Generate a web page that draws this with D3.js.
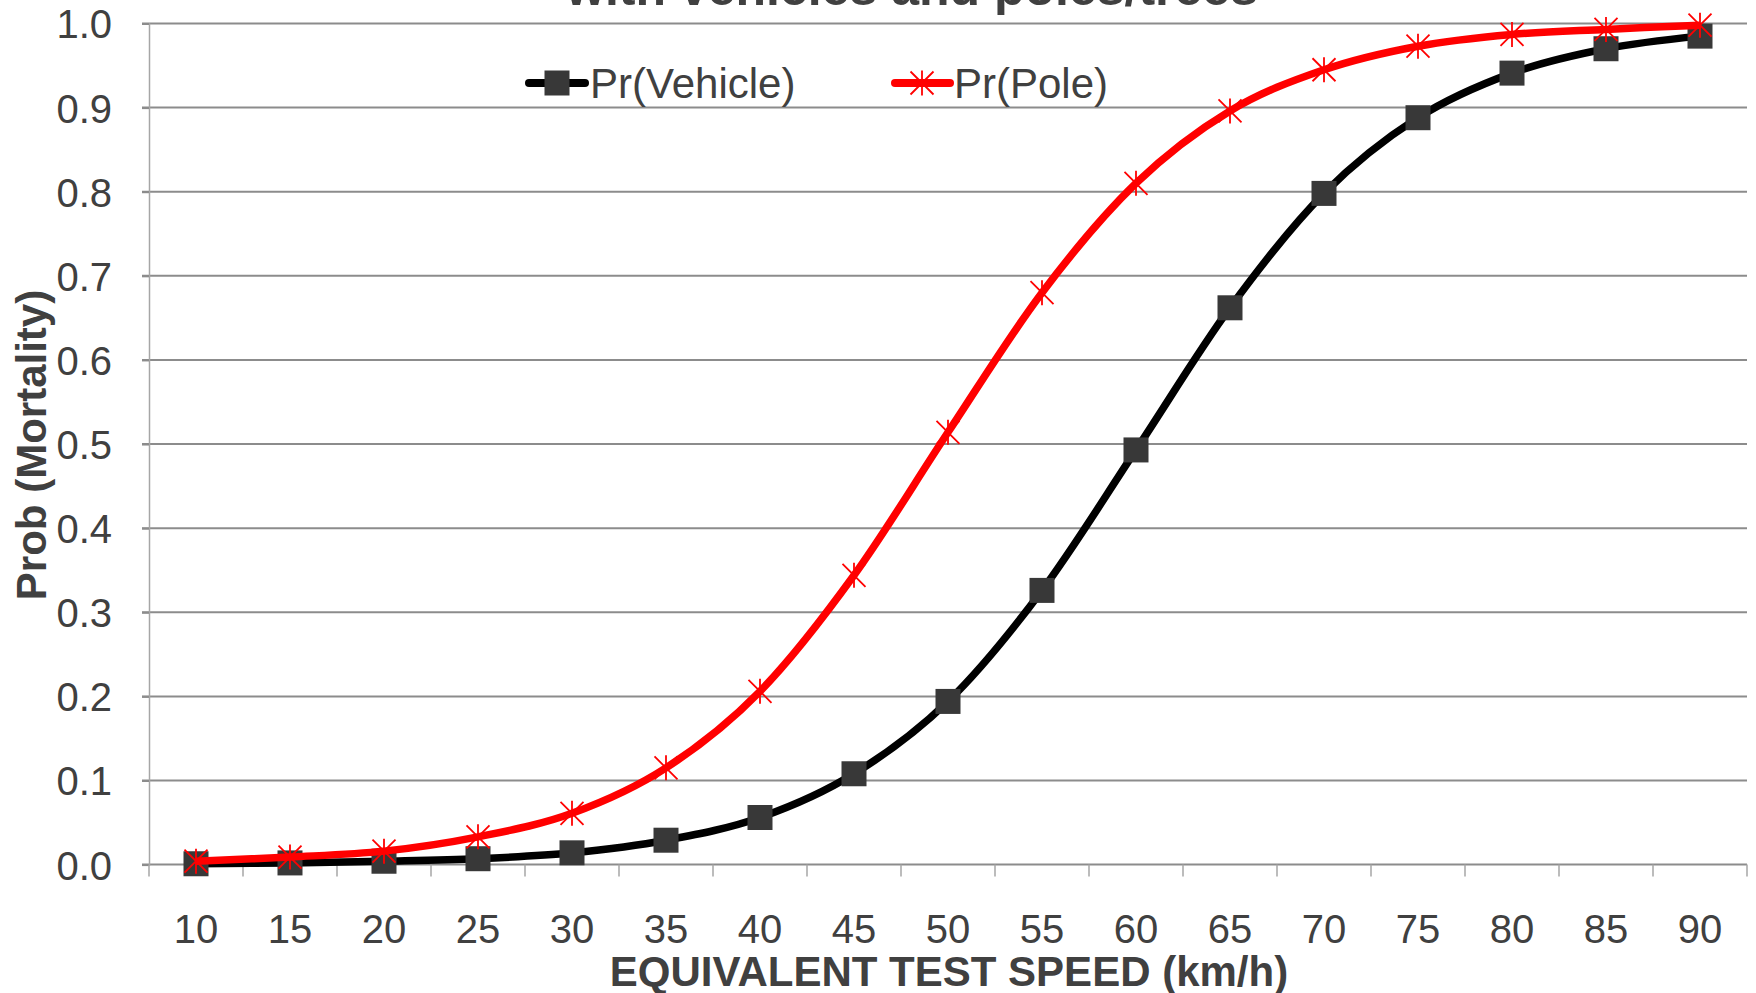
<!DOCTYPE html>
<html>
<head>
<meta charset="utf-8">
<script src="https://cdn.jsdelivr.net/npm/d3@7"></script>
<style>
  body { margin: 0; background: #fff; }
  text { font-family: "Liberation Sans", Arial, sans-serif; fill: #404040; }
</style>
</head>
<body>
<div id="chart"></div>
<script>
// data
var speeds = [10, 15, 20, 25, 30, 35, 40, 45, 50, 55, 60, 65, 70, 75, 80, 85, 90];
var vehicle = [0.001, 0.002, 0.004, 0.007, 0.014, 0.029, 0.056, 0.108, 0.194, 0.326, 0.493, 0.662, 0.798, 0.888, 0.941, 0.970, 0.985];
var pole = [0.004, 0.009, 0.016, 0.033, 0.061, 0.115, 0.206, 0.344, 0.514, 0.680, 0.810, 0.896, 0.945, 0.973, 0.987, 0.993, 0.998];
var yTicks = [0, 0.1, 0.2, 0.3, 0.4, 0.5, 0.6, 0.7, 0.8, 0.9, 1.0];
var seriesNames = ["Pr(Vehicle)", "Pr(Pole)"];
var titleText = "with vehicles and poles/trees";
var xTitle = "EQUIVALENT TEST SPEED (km/h)";
var yTitle = "Prob (Mortality)";

var W = 1756, H = 993;
var plotLeft = 149, plotRight = 1747, plotTop = 23.5, plotBottom = 864.6;

var svg = d3.select("#chart").append("svg")
  .attr("width", W).attr("height", H);

var x = d3.scaleBand().domain(speeds).range([plotLeft, plotRight]).padding(0);
var y = d3.scaleLinear().domain([0, 1]).range([plotBottom, plotTop]);

// horizontal gridlines
svg.append("g").selectAll("line")
  .data(yTicks)
  .enter().append("line")
    .attr("x1", plotLeft - 7).attr("x2", plotRight)
    .attr("y1", function(d) { return y(d); })
    .attr("y2", function(d) { return y(d); })
    .attr("stroke", "#8c8c8c")
    .attr("stroke-width", 2);

// y axis
var yAxis = svg.append("g")
  .attr("transform", "translate(" + plotLeft + ",0)")
  .call(d3.axisLeft(y).tickValues(yTicks).tickFormat(d3.format(".1f")).tickSize(7).tickPadding(30));
yAxis.select(".domain").attr("stroke", "#a6a6a6").attr("stroke-width", 1.5);
yAxis.selectAll(".tick line").attr("stroke", "#8c8c8c").attr("stroke-width", 2);
yAxis.selectAll(".tick text")
  .style("font-size", "40px")
  .attr("fill", "#404040")
  .attr("dy", "0.36em");

// x axis
var xAxis = svg.append("g")
  .attr("transform", "translate(0," + plotBottom + ")")
  .call(d3.axisBottom(x).tickSize(0).tickPadding(50));
xAxis.select(".domain").remove();
xAxis.selectAll(".tick text")
  .style("font-size", "40px")
  .attr("fill", "#404040");

// category boundary ticks
var bounds = speeds.map(function(d) { return x(d); }).concat([x(speeds[speeds.length - 1]) + x.bandwidth()]);
svg.append("g").selectAll("line")
  .data(bounds)
  .enter().append("line")
    .attr("x1", function(d) { return d; })
    .attr("x2", function(d) { return d; })
    .attr("y1", plotBottom)
    .attr("y2", plotBottom + 12)
    .attr("stroke", "#a6a6a6")
    .attr("stroke-width", 1.5);

function cx(d, i) { return x(speeds[i]) + x.bandwidth() / 2; }

var line = d3.line()
  .x(function(d, i) { return cx(d, i); })
  .y(function(d) { return y(d); })
  .curve(d3.curveCardinal);

// vehicle line + squares
svg.append("path")
  .datum(vehicle)
  .attr("d", line)
  .attr("fill", "none")
  .attr("stroke", "#000")
  .attr("stroke-width", 7.5)
  .attr("stroke-linejoin", "round");

svg.append("g").selectAll("rect")
  .data(vehicle)
  .enter().append("rect")
    .attr("x", function(d, i) { return cx(d, i) - 12.5; })
    .attr("y", function(d) { return y(d) - 12.5; })
    .attr("width", 25).attr("height", 25)
    .attr("fill", "#383838");

// pole line + stars
svg.append("path")
  .datum(pole)
  .attr("d", line)
  .attr("fill", "none")
  .attr("stroke", "#ff0000")
  .attr("stroke-width", 7.5)
  .attr("stroke-linejoin", "round");

function star(g, px, py) {
  var r = 12.5;
  var s = 11.5;
  g.append("path")
    .attr("d", "M" + px + "," + (py - r) + "L" + px + "," + (py + r) +
               "M" + (px - s) + "," + (py - s) + "L" + (px + s) + "," + (py + s) +
               "M" + (px - s) + "," + (py + s) + "L" + (px + s) + "," + (py - s))
    .attr("stroke", "#ff0000")
    .attr("stroke-width", 1.8)
    .attr("fill", "none");
}

var stars = svg.append("g");
pole.forEach(function(d, i) { star(stars, cx(d, i), y(d)); });

// legend
var lg = svg.append("g");
lg.append("line")
  .attr("x1", 529).attr("x2", 585).attr("y1", 83).attr("y2", 83)
  .attr("stroke", "#000").attr("stroke-width", 8).attr("stroke-linecap", "round");
lg.append("rect")
  .attr("x", 557 - 12.5).attr("y", 83 - 12.5)
  .attr("width", 25).attr("height", 25)
  .attr("fill", "#383838");
lg.append("text")
  .attr("x", 590).attr("y", 83).attr("dy", "0.36em")
  .style("font-size", "42px")
  .text(seriesNames[0]);

lg.append("line")
  .attr("x1", 895).attr("x2", 950).attr("y1", 83).attr("y2", 83)
  .attr("stroke", "#ff0000").attr("stroke-width", 8).attr("stroke-linecap", "round");
star(lg, 922, 83);
lg.append("text")
  .attr("x", 954).attr("y", 83).attr("dy", "0.36em")
  .style("font-size", "42px")
  .text(seriesNames[1]);

// titles
svg.append("text")
  .attr("x", 912).attr("y", 5)
  .attr("text-anchor", "middle")
  .style("font-size", "50px").style("font-weight", "bold")
  .text(titleText);

svg.append("text")
  .attr("x", 949).attr("y", 986)
  .attr("text-anchor", "middle")
  .style("font-size", "42px").style("font-weight", "bold")
  .text(xTitle);

svg.append("text")
  .attr("transform", "translate(46,445) rotate(-90)")
  .attr("text-anchor", "middle")
  .style("font-size", "42px").style("font-weight", "bold")
  .text(yTitle);
</script>
</body>
</html>
